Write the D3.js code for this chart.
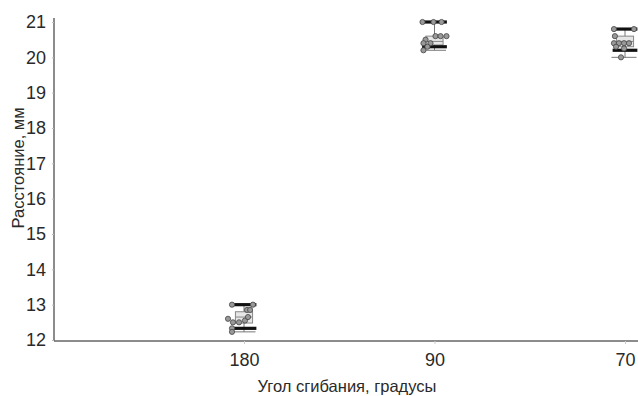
<!DOCTYPE html>
<html><head><meta charset="utf-8">
<script src="https://cdn.jsdelivr.net/npm/d3@7"></script>
<style>
body{margin:0;background:#fff;}
svg{display:block;}
.tick text{font-family:"Liberation Sans Narrow","Liberation Sans",Arial,sans-serif;font-size:18px;fill:#2a2a2a;}
.lab{font-family:"Liberation Sans",Arial,sans-serif;font-size:16.5px;fill:#2a2a2a;}
</style></head>
<body><svg id="c" width="638" height="396"></svg>
<script>
const categories = ["180", "90", "70"];
const yTicks = [12, 13, 14, 15, 16, 17, 18, 19, 20, 21];
const upperBar = [13.0, 21.0, 20.8];
const q3 = [12.8, 20.6, 20.6];
const median = [12.65, 20.45, 20.45];
const q1 = [12.48, 20.35, 20.3];
const lowerBar = [12.33, 20.3, 20.2];
const minVal = [12.23, 20.2, 20.0];
const points180 = [13.0, 13.0, 12.85, 12.85, 12.6, 12.5, 12.5, 12.55, 12.65, 12.33, 12.23];
const points90 = [21.0, 21.0, 21.0, 20.6, 20.6, 20.6, 20.5, 20.4, 20.4, 20.3, 20.2];
const points70 = [20.8, 20.8, 20.6, 20.4, 20.4, 20.4, 20.4, 20.3, 20.25, 20.0];
// horizontal jitter, in fractions of the category step
const jitter180 = [-0.063, 0.047, 0.016, 0.032, -0.084, -0.058, -0.026, 0.005, 0.021, -0.063, -0.063];
const jitter90 = [-0.063, -0.005, 0.037, 0.005, 0.032, 0.063, -0.047, -0.058, -0.021, -0.037, -0.058];
const jitter70 = [-0.058, 0.047, -0.053, -0.058, -0.032, -0.005, 0.021, -0.047, -0.005, -0.021];

const pointSets = [points180, points90, points70];
const jitterSets = [jitter180, jitter90, jitter70];

const svg = d3.select("#c");
const x = d3.scalePoint().domain(categories).range([244, 625]);
const step = x.step();
const y = d3.scaleLinear().domain([12, 21]).range([340, 22]);

// axes
const axisX = 54, axisY = 341;
svg.append("line").attr("x1", axisX).attr("x2", axisX).attr("y1", 18).attr("y2", axisY)
  .attr("stroke", "#666").attr("stroke-width", 1.5);
svg.append("line").attr("x1", axisX).attr("x2", 638).attr("y1", axisY).attr("y2", axisY)
  .attr("stroke", "#666").attr("stroke-width", 1.5);

const gy = svg.append("g").attr("transform", `translate(${axisX},0)`)
  .call(d3.axisLeft(y).tickValues(yTicks).tickSize(2).tickPadding(6).tickFormat(d3.format("d")));
gy.select(".domain").remove();
gy.selectAll(".tick line").attr("stroke", "#bbb");

const gx = svg.append("g").attr("transform", `translate(0,${axisY})`)
  .call(d3.axisBottom(x).tickSize(3).tickPadding(9));
gx.select(".domain").remove();
gx.selectAll(".tick line").attr("stroke", "#ccc");

// axis titles
svg.append("text").attr("class", "lab")
  .attr("transform", `translate(24,168) rotate(-90)`)
  .attr("text-anchor", "middle").text("Расстояние, мм");
svg.append("text").attr("class", "lab")
  .attr("x", 347).attr("y", 392).attr("text-anchor", "middle")
  .text("Угол сгибания, градусы");

const boxW = 0.09 * step, barW = 0.13 * step, capW = 0.1 * step;
categories.forEach((c, i) => {
  const cx = x(c);
  const g = svg.append("g");
  g.append("line").attr("x1", cx).attr("x2", cx).attr("y1", y(upperBar[i])).attr("y2", y(minVal[i]))
    .attr("stroke", "#777").attr("stroke-width", 1);
  g.append("line").attr("x1", cx - capW / 2 - 4).attr("x2", cx + capW / 2 + 2)
    .attr("y1", y(minVal[i])).attr("y2", y(minVal[i])).attr("stroke", "#777").attr("stroke-width", 1);
  g.append("rect").attr("x", cx - boxW / 2).attr("width", boxW)
    .attr("y", y(q3[i])).attr("height", y(q1[i]) - y(q3[i]))
    .attr("fill", "#e6e6e6").attr("stroke", "#888").attr("stroke-width", 1);
  g.append("line").attr("x1", cx - boxW / 2).attr("x2", cx + boxW / 2)
    .attr("y1", y(median[i])).attr("y2", y(median[i])).attr("stroke", "#888").attr("stroke-width", 1);
  [upperBar[i], lowerBar[i]].forEach(v => {
    g.append("line").attr("x1", cx - barW / 2).attr("x2", cx + barW / 2)
      .attr("y1", y(v)).attr("y2", y(v)).attr("stroke", "#111").attr("stroke-width", 3.2);
  });
  g.selectAll("circle").data(pointSets[i]).join("circle")
    .attr("cx", (d, k) => cx + jitterSets[i][k] * step)
    .attr("cy", d => y(d))
    .attr("r", 2.6)
    .attr("fill", "#999").attr("stroke", "#444").attr("stroke-width", 0.8);
});
</script></body></html>
